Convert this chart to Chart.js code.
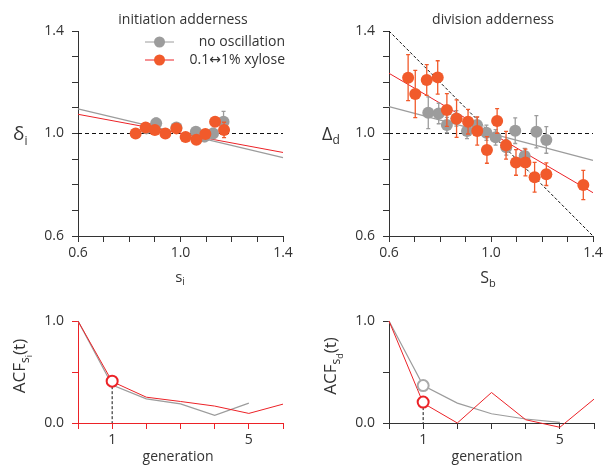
<!DOCTYPE html>
<html>
<head>
<meta charset="utf-8">
<script src="https://cdn.jsdelivr.net/npm/chart.js@4.4.1/dist/chart.umd.min.js"></script>
<style>
  body { margin: 0; background: #fff; }
  canvas { position: absolute; left: 0; top: 0; }
</style>
</head>
<body>
<canvas id="pInit" width="613" height="466"></canvas>
<canvas id="pDiv" width="613" height="466"></canvas>
<canvas id="pAcfI" width="613" height="466"></canvas>
<canvas id="pAcfD" width="613" height="466"></canvas>
<script>
// initiation adderness (s_i, delta_i)
const siGray = [0.867, 0.905, 0.984, 1.06, 1.094, 1.127, 1.168];
const deltaGray = [1.02, 1.04, 1.023, 1.007, 0.988, 1.0, 1.046];
const deltaGrayErr = [0.015, 0.02, 0.012, 0.015, 0.02, 0.02, 0.04];
const siOrange = [0.825, 0.864, 0.900, 0.941, 0.984, 1.02, 1.062, 1.097, 1.135, 1.17];
const deltaOrange = [1.0, 1.023, 1.014, 1.0, 1.02, 0.986, 0.976, 0.998, 1.046, 1.014];
const deltaOrangeErr = [0.01, 0.01, 0.012, 0.012, 0.01, 0.01, 0.012, 0.01, 0.015, 0.03];
const fitX = [0.6, 1.4];
const fitGrayInit = [1.096, 0.906];
const fitRedInit = [1.075, 0.926];

// division adderness (S_b, Delta_d)
const sbGray = [0.754, 0.795, 0.827, 0.864, 0.906, 0.945, 0.982, 1.018, 1.06, 1.095, 1.132, 1.178, 1.217];
const DeltaGray = [1.081, 1.078, 1.033, 1.059, 1.01, 1.033, 1.003, 0.985, 0.946, 1.011, 0.912, 1.007, 0.975];
const DeltaGrayErr = [0.062, 0.04, 0.03, 0.03, 0.03, 0.03, 0.03, 0.03, 0.03, 0.05, 0.03, 0.063, 0.052];
const sbOrange = [0.675, 0.703, 0.748, 0.791, 0.827, 0.865, 0.91, 0.946, 0.984, 1.024, 1.059, 1.098, 1.135, 1.171, 1.217, 1.362];
const DeltaOrange = [1.218, 1.154, 1.209, 1.219, 1.092, 1.058, 1.046, 1.01, 0.936, 1.049, 0.954, 0.887, 0.887, 0.829, 0.841, 0.799];
const DeltaOrangeErr = [0.09, 0.092, 0.06, 0.065, 0.064, 0.073, 0.048, 0.055, 0.052, 0.048, 0.054, 0.05, 0.052, 0.058, 0.044, 0.057];
const fitGrayDiv = [1.105, 0.895];
const fitRedDiv = [1.235, 0.769];
const sizerLine = [1.4, 0.6];
const unityX = [0.6, 1.4];
const unityY = [1.0, 1.0];

// autocorrelation
const generations = [0, 1, 2, 3, 4, 5, 6];
const acfSiRed = [1.0, 0.406, 0.253, 0.211, 0.166, 0.094, 0.185];
const acfSiGray = [1.0, 0.373, 0.237, 0.188, 0.075, 0.195];
const acfSdGray = [1.0, 0.367, 0.195, 0.091, 0.039, 0.006];
const acfSdRed = [1.0, 0.195, 0.0, 0.299, 0.032, -0.042, 0.234];
const markGen = [1];
const markSiRed = [0.41];
const markSdGray = [0.367];
const markSdRed = [0.205];

const FONT = "'Open Sans', 'DejaVu Sans', sans-serif";
const TXT = '#333';
const ORANGE = '#f15a2b';
const GRAY = '#9c9c9c';
const RED = '#ec2227';
const AX = '#333';

const xy = (xs, ys) => ys.map((y, i) => ({ x: xs[i], y: y }));

function line(data, color, width, dash, order) {
  return { data, showLine: true, borderColor: color, borderWidth: width, borderDash: dash || [],
           pointRadius: 0, order, clip: false };
}
function dots(data, color, err, order) {
  return { data, err, backgroundColor: color, borderColor: color, borderWidth: 0,
           pointRadius: 6, order, clip: false };
}
function ring(data, color, order) {
  return { data, backgroundColor: '#fff', borderColor: color, borderWidth: 2,
           pointRadius: 5.5, order, clip: false };
}

function labelsAt(list, digits) {
  return v => list.some(t => Math.abs(v - t) < 1e-6) ? v.toFixed(digits) : '';
}

function scales(xr, yr, color) {
  const tickFont = { family: FONT, size: 14 };
  return {
    x: {
      type: 'linear', min: xr.min, max: xr.max,
      afterFit: s => { s.height = 30; },
      ticks: { stepSize: xr.step, autoSkip: false, maxRotation: 0, padding: 3, color: TXT,
               font: tickFont, callback: xr.cb },
      grid: { drawOnChartArea: false, tickLength: 6, color, lineWidth: 1 },
      border: { color, width: 1 }
    },
    y: {
      type: 'linear', min: yr.min, max: yr.max,
      afterFit: s => { s.width = 40; },
      ticks: { stepSize: yr.step, autoSkip: false, padding: 8, color: TXT,
               font: tickFont, callback: yr.cb },
      grid: { drawOnChartArea: false, tickLength: 6, color, lineWidth: 1 },
      border: { color, width: 1 }
    }
  };
}

// error bars drawn just before each point dataset
const errorBars = {
  id: 'errorBars',
  beforeDatasetDraw(chart, args) {
    const ds = chart.data.datasets[args.index];
    if (!ds.err) return;
    const { ctx, scales: { x, y } } = chart;
    ctx.save();
    ctx.strokeStyle = ds.borderColor;
    ctx.lineWidth = 1.3;
    ds.data.forEach((p, i) => {
      const px = x.getPixelForValue(p.x);
      const y1 = y.getPixelForValue(p.y + ds.err[i]);
      const y2 = y.getPixelForValue(p.y - ds.err[i]);
      ctx.beginPath();
      ctx.moveTo(px, y1); ctx.lineTo(px, y2);
      ctx.moveTo(px - 2, y1); ctx.lineTo(px + 2, y1);
      ctx.moveTo(px - 2, y2); ctx.lineTo(px + 2, y2);
      ctx.stroke();
    });
    ctx.restore();
  }
};

// text with subscripts: parts = [[text, size, dy], ...]
function drawRich(ctx, parts, x, y, align, rotate) {
  ctx.save();
  ctx.translate(x, y);
  if (rotate) ctx.rotate(-Math.PI / 2);
  ctx.fillStyle = TXT;
  ctx.textBaseline = 'alphabetic';
  let w = 0;
  parts.forEach(p => { ctx.font = p[1] + 'px ' + FONT; w += ctx.measureText(p[0]).width; });
  let cx = align === 'center' ? -w / 2 : 0;
  parts.forEach(p => {
    ctx.font = p[1] + 'px ' + FONT;
    ctx.fillText(p[0], cx, p[2] || 0);
    cx += ctx.measureText(p[0]).width;
  });
  ctx.restore();
}

function textPlugin(draw) {
  return { id: 'texts', afterDraw(chart) { draw(chart.ctx); } };
}

function panel(id, datasets, sc, pad, draw) {
  new Chart(document.getElementById(id), {
    type: 'scatter',
    data: { datasets },
    options: {
      responsive: false,
      animation: false,
      events: [],
      layout: { padding: pad },
      scales: sc,
      plugins: { legend: { display: false }, tooltip: { enabled: false } }
    },
    plugins: [errorBars, textPlugin(draw)]
  });
}

const ratioX = { min: 0.6, max: 1.4, step: 0.1, cb: labelsAt([0.6, 1.0, 1.4], 1) };
const ratioY = { min: 0.6, max: 1.4, step: 0.1, cb: labelsAt([0.6, 1.0, 1.4], 1) };
const genX = { min: 0, max: 6, step: 1, cb: labelsAt([1, 5], 0) };
const acfY = { min: 0, max: 1, step: 0.5, cb: labelsAt([0, 1], 1) };

panel('pInit', [
  dots(xy(siOrange, deltaOrange), ORANGE, deltaOrangeErr, 1),
  dots(xy(siGray, deltaGray), GRAY, deltaGrayErr, 2),
  line(xy(unityX, unityY), '#111', 1, [4, 3], 3),
  line(xy(fitX, fitRedInit), RED, 1, null, 4),
  line(xy(fitX, fitGrayInit), GRAY, 1.2, null, 5)
], scales(ratioX, ratioY, AX), { left: 38, right: 330, top: 31, bottom: 200 }, ctx => {
  drawRich(ctx, [['initiation adderness', 14]], 183, 24, 'center');
  drawRich(ctx, [['\u03b4', 19], ['i', 12, 5]], 13, 140, 'left');
  drawRich(ctx, [['s', 15], ['i', 10, 3]], 180, 282, 'center');
  // legend
  ctx.save();
  [[GRAY, 42, 'no oscillation'], [ORANGE, 60, '0.1\u21941% xylose']].forEach(([c, yy, t]) => {
    ctx.strokeStyle = c === ORANGE ? RED : GRAY;
    ctx.lineWidth = 1;
    ctx.beginPath(); ctx.moveTo(145, yy); ctx.lineTo(174, yy); ctx.stroke();
    ctx.fillStyle = c;
    ctx.beginPath(); ctx.arc(159.5, yy, 5.5, 0, Math.PI * 2); ctx.fill();
    ctx.fillStyle = TXT;
    ctx.font = '14px ' + FONT;
    ctx.textAlign = 'right';
    ctx.textBaseline = 'middle';
    ctx.fillText(t, 285, yy);
  });
  ctx.restore();
});

panel('pDiv', [
  dots(xy(sbOrange, DeltaOrange), ORANGE, DeltaOrangeErr, 1),
  dots(xy(sbGray, DeltaGray), GRAY, DeltaGrayErr, 2),
  line(xy(fitX, sizerLine), '#111', 1, [3, 2], 3),
  line(xy(unityX, unityY), '#111', 1, [4, 3], 3),
  line(xy(fitX, fitRedDiv), RED, 1, null, 4),
  line(xy(fitX, fitGrayDiv), GRAY, 1.2, null, 5)
], scales(ratioX, ratioY, AX), { left: 349, right: 20, top: 31, bottom: 200 }, ctx => {
  drawRich(ctx, [['division adderness', 14]], 493, 24, 'center');
  drawRich(ctx, [['\u0394', 18], ['d', 12, 4]], 322, 140, 'left');
  drawRich(ctx, [['S', 16], ['b', 11, 4]], 488, 283, 'center');
});

panel('pAcfI', [
  ring(xy(markGen, markSiRed), RED, 1),
  line(xy(generations, acfSiRed), RED, 1, null, 2),
  line(xy(generations, acfSiGray), GRAY, 1.2, null, 3),
  line([{ x: markGen[0], y: markSiRed[0] }, { x: markGen[0], y: 0 }], '#111', 1, [3, 2], 4)
], scales(genX, acfY, RED), { left: 38, right: 330, top: 321, bottom: 13 }, ctx => {
  drawRich(ctx, [['ACF', 17], ['s', 12, 4], ['i', 9, 7], ['(t)', 17]], 25, 366, 'center', true);
  drawRich(ctx, [['generation', 14]], 178, 461, 'center');
});

panel('pAcfD', [
  ring(xy(markGen, markSdRed), RED, 1),
  ring(xy(markGen, markSdGray), '#aaa', 1),
  line(xy(generations, acfSdRed), RED, 1, null, 2),
  line(xy(generations, acfSdGray), GRAY, 1.2, null, 3),
  line([{ x: markGen[0], y: markSdRed[0] }, { x: markGen[0], y: 0 }], '#111', 1, [3, 2], 4)
], scales(genX, acfY, AX), { left: 349, right: 19, top: 321, bottom: 13 }, ctx => {
  drawRich(ctx, [['ACF', 17], ['s', 12, 4], ['d', 9, 7], ['(t)', 17]], 336, 366, 'center', true);
  drawRich(ctx, [['generation', 14]], 487, 461, 'center');
});
</script>
</body>
</html>
